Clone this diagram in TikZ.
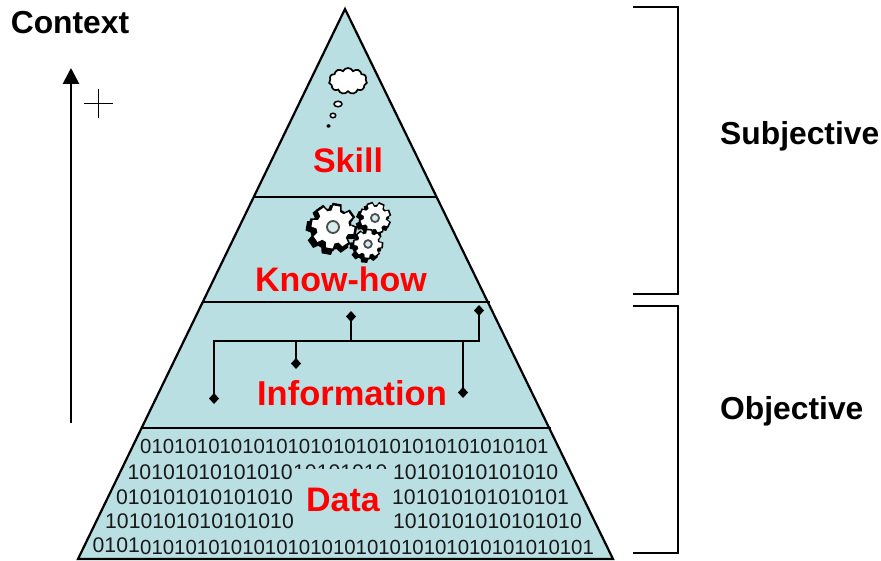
\documentclass[tikz,border=0pt]{standalone}
\usepackage{xcolor}
\usepackage{fontspec}
\setmainfont{Liberation Sans}
\usetikzlibrary{shapes.geometric, shapes.symbols, arrows.meta}
\definecolor{pyramidTeal}{RGB}{185, 223, 227}
\definecolor{labelRed}{RGB}{255, 0, 0}
\tikzset{
    pics/cog/.style args={#1/#2}{code={
        \fill[black, xshift=-2.5pt, yshift=-3pt] (#2:#1*0.8) \foreach \a in {0,45,...,315} {-- (\a+#2-17:#1*0.8) -- (\a+#2-11:#1) -- (\a+#2+11:#1) -- (\a+#2+17:#1*0.8)} -- cycle;
        \fill[black] (#2:#1*0.76) \foreach \a in {0,45,...,315} {-- (\a+#2-17:#1*0.76) -- (\a+#2-11:#1*0.97) -- (\a+#2+11:#1*0.97) -- (\a+#2+17:#1*0.76)} -- cycle;
        \fill[white] (#2:#1*0.66) \foreach \a in {0,45,...,315} {-- (\a+#2-15:#1*0.66) -- (\a+#2-9:#1*0.86) -- (\a+#2+9:#1*0.86) -- (\a+#2+15:#1*0.66)} -- cycle;
        \draw[black!70, line width=1.8pt, fill=pyramidTeal!60] (0,0) circle (#1*0.24);
    }}
}
\begin{document}
\begin{tikzpicture}[x=1pt, y=-1pt,
    layerlabel/.style={text=labelRed, font=\bfseries\fontsize{34}{40}\selectfont, inner sep=0pt},
    sidelabel/.style={font=\bfseries\fontsize{31.8}{38}\selectfont, inner sep=0pt},
    bitrow/.style={anchor=west, inner sep=0pt, text=black!90, font=\fontsize{21.2}{24}\selectfont},
    longrow/.style={bitrow, font=\fontsize{20.4}{24}\selectfont},
    treeline/.style={line width=2.6pt, -{Diamond[length=11pt, width=10pt]}},
    layerline/.style={line width=2.2pt},
    bracket/.style={line width=1.5pt}]
    \useasboundingbox (0,0) rectangle (881,561);

    % pyramid
    \coordinate (apex) at (345,9);
    \coordinate (baseL) at (78,559);
    \coordinate (baseR) at (613,559);
    \draw[layerline, fill=pyramidTeal] (apex) -- (baseR) -- (baseL) -- cycle;
    \coordinate (skillL) at (254,197);
    \coordinate (skillR) at (437,197);
    \coordinate (knowL) at (203,302);
    \coordinate (knowR) at (490,302);
    \coordinate (infoL) at (141,428);
    \coordinate (infoR) at (551,428);
    \draw[layerline] (skillL) -- (skillR);
    \draw[layerline] (knowL) -- (knowR);
    \draw[layerline] (infoL) -- (infoR);

    % bits
    \node[longrow] (row1) at (140,446) {010101010101010101010101010101010101};
    \node[bitrow] (row2mid) at (293,472) {10101010};
    \node[fill=pyramidTeal, inner sep=0pt, minimum width=100pt, minimum height=70pt] (mask) at (343.5,504) {};
    \node[bitrow] (row2a) at (127.5,472) {10101010101010};
    \node[bitrow] (row2b) at (393,472) {10101010101010};
    \node[bitrow] (row3a) at (116,497) {010101010101010};
    \node[bitrow] (row3b) at (392,497) {101010101010101};
    \node[bitrow] (row4a) at (105,521) {1010101010101010};
    \node[bitrow] (row4b) at (393,521) {1010101010101010};
    \node[bitrow] (row5a) at (92.5,545) {0101};
    \node[longrow] (row5b) at (140,547) {0101010101010101010101010101010101010101};

    \node[layerlabel] (data) at (343,500) {Data};
    \node[layerlabel, font=\bfseries\fontsize{34.5}{42}\selectfont] (information) at (352,393) {Information};
    \node[layerlabel] (knowhow) at (341,279) {Know-how};
    \node[layerlabel] (skill) at (348,160) {Skill};

    % information tree
    \coordinate (busL) at (214,341);
    \coordinate (busA) at (296,341);
    \coordinate (busB) at (351,341);
    \coordinate (busC) at (463,341);
    \coordinate (busR) at (479,341);
    \coordinate (tipL) at (214,404);
    \coordinate (tipA) at (296,369);
    \coordinate (tipB) at (351,311);
    \coordinate (tipC) at (463,398);
    \coordinate (tipR) at (479,305);
    \draw[treeline] (busR) -- (tipR);
    \draw[treeline] (busL) -- (tipL);
    \draw[treeline] (busA) -- (tipA);
    \draw[treeline] (busB) -- (tipB);
    \draw[treeline] (busC) -- (tipC);
    \draw[line width=2.6pt, line cap=rect] (busL) -- (busR);

    % gears
    \pic at (333,227) {cog=25/10};
    \pic at (375,218) {cog=17/25};
    \pic at (368,244) {cog=16/5};

    % thought bubble
    \node[cloud, cloud puffs=11, cloud puff arc=130, aspect=1.45, draw, line width=1.7pt, fill=white, minimum width=38pt, minimum height=26pt, inner sep=0pt] (thought) at (348,81) {};
    \node[ellipse, draw, line width=1.5pt, fill=white, minimum width=8pt, minimum height=5.5pt, inner sep=0pt] (bubbleA) at (338,104) {};
    \node[ellipse, draw, line width=1.5pt, fill=white, minimum width=5.5pt, minimum height=4.5pt, inner sep=0pt] (bubbleB) at (333,115.5) {};
    \node[ellipse, fill=black, minimum width=4pt, minimum height=3.5pt, inner sep=0pt] (bubbleC) at (328.5,126) {};

    % context axis
    \node[sidelabel] (context) at (70,23) {Context};
    \coordinate (axisBottom) at (71,423);
    \coordinate (axisTop) at (71,68);
    \draw[-{Triangle[length=16pt, width=16pt]}, line width=2.8pt] (axisBottom) -- (axisTop);
    \coordinate (plusL) at (84,103.5);
    \coordinate (plusR) at (113,103.5);
    \coordinate (plusT) at (98.5,89);
    \coordinate (plusB) at (98.5,118);
    \draw[line width=1pt] (plusL) -- (plusR);
    \draw[line width=1pt] (plusT) -- (plusB);

    % brackets
    \coordinate (subjTop) at (633,7);
    \coordinate (subjTopR) at (678,7);
    \coordinate (subjBotR) at (678,294);
    \coordinate (subjBot) at (633,294);
    \coordinate (objTop) at (633,306);
    \coordinate (objTopR) at (678,306);
    \coordinate (objBotR) at (678,553);
    \coordinate (objBot) at (633,553);
    \draw[bracket] (subjTop) -- (subjTopR) -- (subjBotR) -- (subjBot);
    \draw[bracket] (objTop) -- (objTopR) -- (objBotR) -- (objBot);
    \node[sidelabel, anchor=west] (subjective) at (720,136.5) {Subjective};
    \node[sidelabel, anchor=west] (objective) at (720,411) {Objective};
\end{tikzpicture}
\end{document}
